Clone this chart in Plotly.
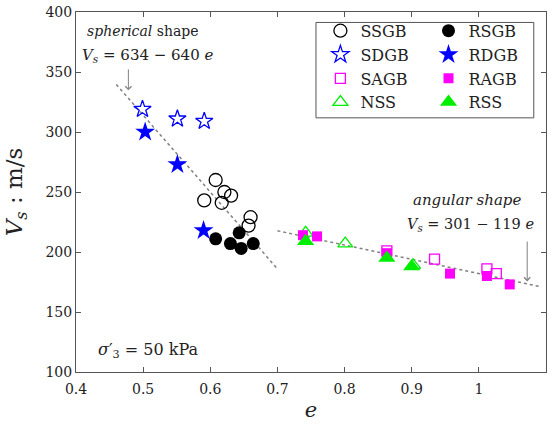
import plotly.graph_objects as go

# ---- data ----
SSGB_e = [0.608, 0.621, 0.631, 0.591, 0.617, 0.660, 0.657]
SSGB_v = [260, 250, 247, 243, 241, 229, 222]
RSGB_e = [0.608, 0.643, 0.630, 0.646, 0.664]
RSGB_v = [211, 216, 207, 203, 207]
SDGB_e = [0.499, 0.551, 0.591]
SDGB_v = [319, 311, 309]
RDGB_e = [0.503, 0.551, 0.590]
RDGB_v = [300, 273, 218]
SAGB_e = [0.863, 0.934, 1.012, 1.026]
SAGB_v = [201, 194, 186, 182]
RAGB_e = [0.738, 0.759, 0.863, 0.957, 1.012, 1.046]
RAGB_v = [214, 213, 199, 182, 180, 173]
NSS_e = [0.742, 0.801, 0.902]
NSS_v = [216, 207, 189]
RSS_e = [0.742, 0.863, 0.900]
RSS_v = [209, 195, 188]

# trend lines (end points on the fitted equations)
sph_e = [0.46, 0.70]
sph_v = [339.6, 186.0]
ang_e = [0.70, 1.09]
ang_v = [217.7, 171.3]

x_ticks = [0.4, 0.5, 0.6, 0.7, 0.8, 0.9, 1.0, 1.1]
x_ticktext = ["0.4", "0.5", "0.6", "0.7", "0.8", "0.9", "1", "1.1"]
y_ticks = [100, 150, 200, 250, 300, 350, 400]

SERIF = "DejaVu Serif"
fig = go.Figure()

fig.add_trace(go.Scatter(x=sph_e, y=sph_v, mode="lines", showlegend=False,
                         line=dict(color="#808080", width=1.5, dash="dot")))
fig.add_trace(go.Scatter(x=ang_e, y=ang_v, mode="lines", showlegend=False,
                         line=dict(color="#808080", width=1.5, dash="dot")))

def add(name, xs, ys, symbol, color, size, legend, filled):
    fig.add_trace(go.Scatter(
        x=xs, y=ys, mode="markers", name=name, legend=legend,
        marker=dict(symbol=symbol, size=size, color=color,
                    line=dict(color=color, width=1.3 if not filled else 0))))

# left legend column (open symbols)
add("SSGB", SSGB_e, SSGB_v, "circle-open", "black", 13, "legend", False)
add("SDGB", SDGB_e, SDGB_v, "star-open", "#0000ff", 13, "legend", False)
add("SAGB", SAGB_e, SAGB_v, "square-open", "#ff00ff", 10, "legend", False)
add("NSS", NSS_e, NSS_v, "triangle-up-open", "#00ee00", 13, "legend", False)
# right legend column (filled symbols)
add("RSGB", RSGB_e, RSGB_v, "circle", "black", 13, "legend2", True)
add("RDGB", RDGB_e, RDGB_v, "star", "#0000ff", 15, "legend2", True)
add("RAGB", RAGB_e, RAGB_v, "square", "#ff00ff", 10, "legend2", True)
add("RSS", RSS_e, RSS_v, "triangle-up", "#00ee00", 15, "legend2", True)

axis_common = dict(showgrid=False, zeroline=False, showline=True, linecolor="#555",
                   linewidth=1, mirror="ticks", ticks="inside", ticklen=5,
                   tickcolor="#555", tickfont=dict(family=SERIF, size=14, color="#222"))

fig.update_xaxes(range=[0.4, 1.1], tickvals=x_ticks, ticktext=x_ticktext,
                 ticklabelstandoff=4,
                 title=dict(text="<i>e</i>", font=dict(family=SERIF, size=21, color="#222"),
                            standoff=6), **axis_common)
fig.update_yaxes(range=[100, 400], tickvals=y_ticks,
                 title=dict(text="<i>V<sub>s</sub></i> : m/s",
                            font=dict(family=SERIF, size=23, color="#222"), standoff=16),
                 **axis_common)

leg_common = dict(bgcolor="rgba(0,0,0,0)", borderwidth=0, yanchor="top", xanchor="left",
                  font=dict(family=SERIF, size=16, color="#222"), tracegroupgap=0,
                  itemsizing="trace")
fig.update_layout(
    width=554, height=426, autosize=False,
    margin=dict(l=76, r=8, t=12, b=54, autoexpand=False),
    paper_bgcolor="white", plot_bgcolor="white",
    legend=dict(x=0.52, y=0.995, **leg_common),
    legend2=dict(x=0.75, y=0.995, **leg_common),
    shapes=[dict(type="rect", xref="paper", yref="paper", x0=0.5106, x1=0.974,
                 y0=0.706, y1=0.971, line=dict(color="#555", width=1))],
)

ann_font = dict(family=SERIF, size=14, color="#222")
fig.add_annotation(x=0.50, y=384.5, text="<i>spherical</i> shape", showarrow=False,
                   font=ann_font)
fig.add_annotation(x=0.506, y=363.5, text="<i>V<sub>s</sub></i> = 634 − 640 <i>e</i>",
                   showarrow=False, font=dict(family=SERIF, size=15, color="#222"))
fig.add_annotation(x=1.066, y=243.3, xanchor="right", text="<i>angular shape</i>",
                   showarrow=False, font=dict(family=SERIF, size=15, color="#222"))
fig.add_annotation(x=1.085, y=222.5, xanchor="right",
                   text="<i>V<sub>s</sub></i> = 301 − 119 <i>e</i>",
                   showarrow=False, font=dict(family=SERIF, size=14.5, color="#222"))
fig.add_annotation(x=0.43, y=118, xanchor="left",
                   text="<i>σ</i>′<sub>3</sub> = 50 kPa", showarrow=False,
                   font=dict(family=SERIF, size=16, color="#222"))
# arrows
fig.add_annotation(x=0.478, y=334.7, ax=0.478, ay=353.4, axref="x", ayref="y",
                   xref="x", yref="y", text="", showarrow=True, arrowhead=4,
                   arrowsize=1.2, arrowwidth=1, arrowcolor="#808080")
fig.add_annotation(x=1.072, y=175.5, ax=1.072, ay=210, axref="x", ayref="y",
                   xref="x", yref="y", text="", showarrow=True, arrowhead=4,
                   arrowsize=1.2, arrowwidth=1, arrowcolor="#808080")

fig.write_html("out.html", config={"displayModeBar": False},
               post_script="document.body.style.margin='0';")
